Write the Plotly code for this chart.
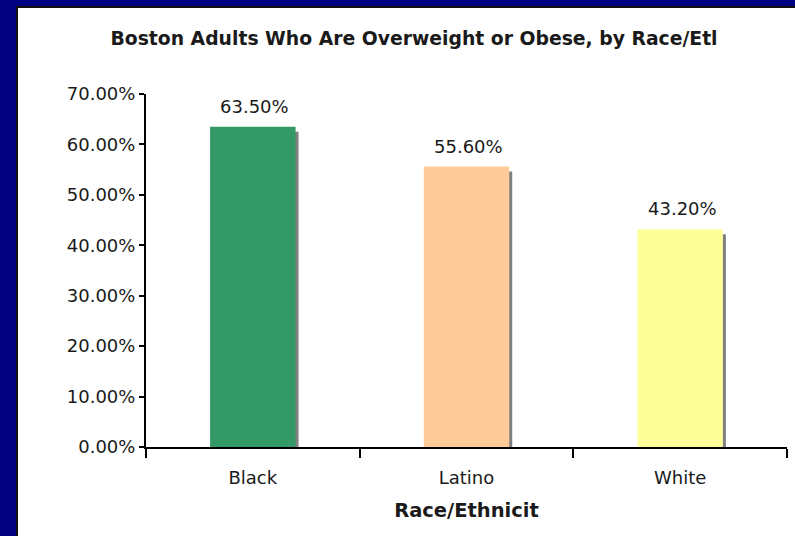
import plotly.graph_objects as go

# Survey results by race/ethnicity
categories = ["Black", "Latino", "White"]
overweight_share = [0.635, 0.556, 0.432]
bar_colors = ["#339966", "#FFCC99", "#FFFF99"]
y_ticks = [0.0, 0.1, 0.2, 0.3, 0.4, 0.5, 0.6, 0.7]

W, H = 795, 536
L, R, T, B = 146, 8, 94, 89
plot_w, plot_h = W - L - R, H - T - B

FONT = "DejaVu Sans"
TEXT = "#1a1a1a"
BAR_W = 0.40
SHADOW_DX = 3 / (plot_w / len(categories))     # 3 px right, in category units
SHADOW_DY = 5 * 0.7 / plot_h                   # 5 px down, in value units

fig = go.Figure()

# drop shadow behind each bar
fig.add_trace(go.Bar(
    x=categories,
    y=[v - SHADOW_DY for v in overweight_share],
    width=BAR_W, offset=-BAR_W / 2 + SHADOW_DX,
    marker=dict(color="#808080", line=dict(width=0)),
    hoverinfo="skip", showlegend=False,
))

fig.add_trace(go.Bar(
    x=categories, y=overweight_share,
    width=BAR_W, offset=-BAR_W / 2,
    marker=dict(color=bar_colors, line=dict(width=0)),
    hoverinfo="skip", showlegend=False,
))

# value labels above the bars
for cat, v in zip(categories, overweight_share):
    fig.add_annotation(
        x=cat, y=v, text=f"{v * 100:.2f}%", showarrow=False,
        yanchor="bottom", yshift=8, xshift=2,
        font=dict(family=FONT, size=18, color=TEXT),
    )

# white chart panel on the navy slide
px = lambda p: (p - L) / plot_w
py = lambda p: (H - B - p) / plot_h
fig.add_shape(type="rect", xref="paper", yref="paper",
              x0=px(17), x1=px(W + 10), y0=py(H + 10), y1=py(7),
              fillcolor="white", line=dict(color="#111111", width=2),
              layer="below")

fig.update_layout(
    width=W, height=H,
    margin=dict(l=L, r=R, t=T, b=B, autoexpand=False),
    paper_bgcolor="#000080", plot_bgcolor="white",
    barmode="overlay",
    title=dict(
        text="<b>Boston Adults Who Are Overweight or Obese, by Race/Etl</b>",
        xref="container", yref="container",
        x=414 / W, y=1 - 38 / H, xanchor="center", yanchor="middle",
        font=dict(family=FONT, size=18.8, color=TEXT),
    ),
    xaxis=dict(
        type="category", tickson="boundaries",
        ticks="outside", ticklen=9, tickwidth=2, tickcolor="black",
        ticklabelstandoff=13,
        showline=True, linecolor="black", linewidth=2,
        showgrid=False, zeroline=False,
        tickfont=dict(family=FONT, size=18, color=TEXT),
        title=dict(text="<b>Race/Ethnicit</b>", standoff=17,
                   font=dict(family=FONT, size=19.5, color=TEXT)),
        automargin=False,
    ),
    yaxis=dict(
        range=[0, 0.7], tickvals=y_ticks, tickformat=".2%",
        ticks="outside", ticklen=5, tickwidth=2, tickcolor="black",
        showline=True, linecolor="black", linewidth=2,
        showgrid=False, zeroline=False,
        tickfont=dict(family=FONT, size=18, color=TEXT),
        automargin=False,
    ),
)

fig.write_html("out.html")
